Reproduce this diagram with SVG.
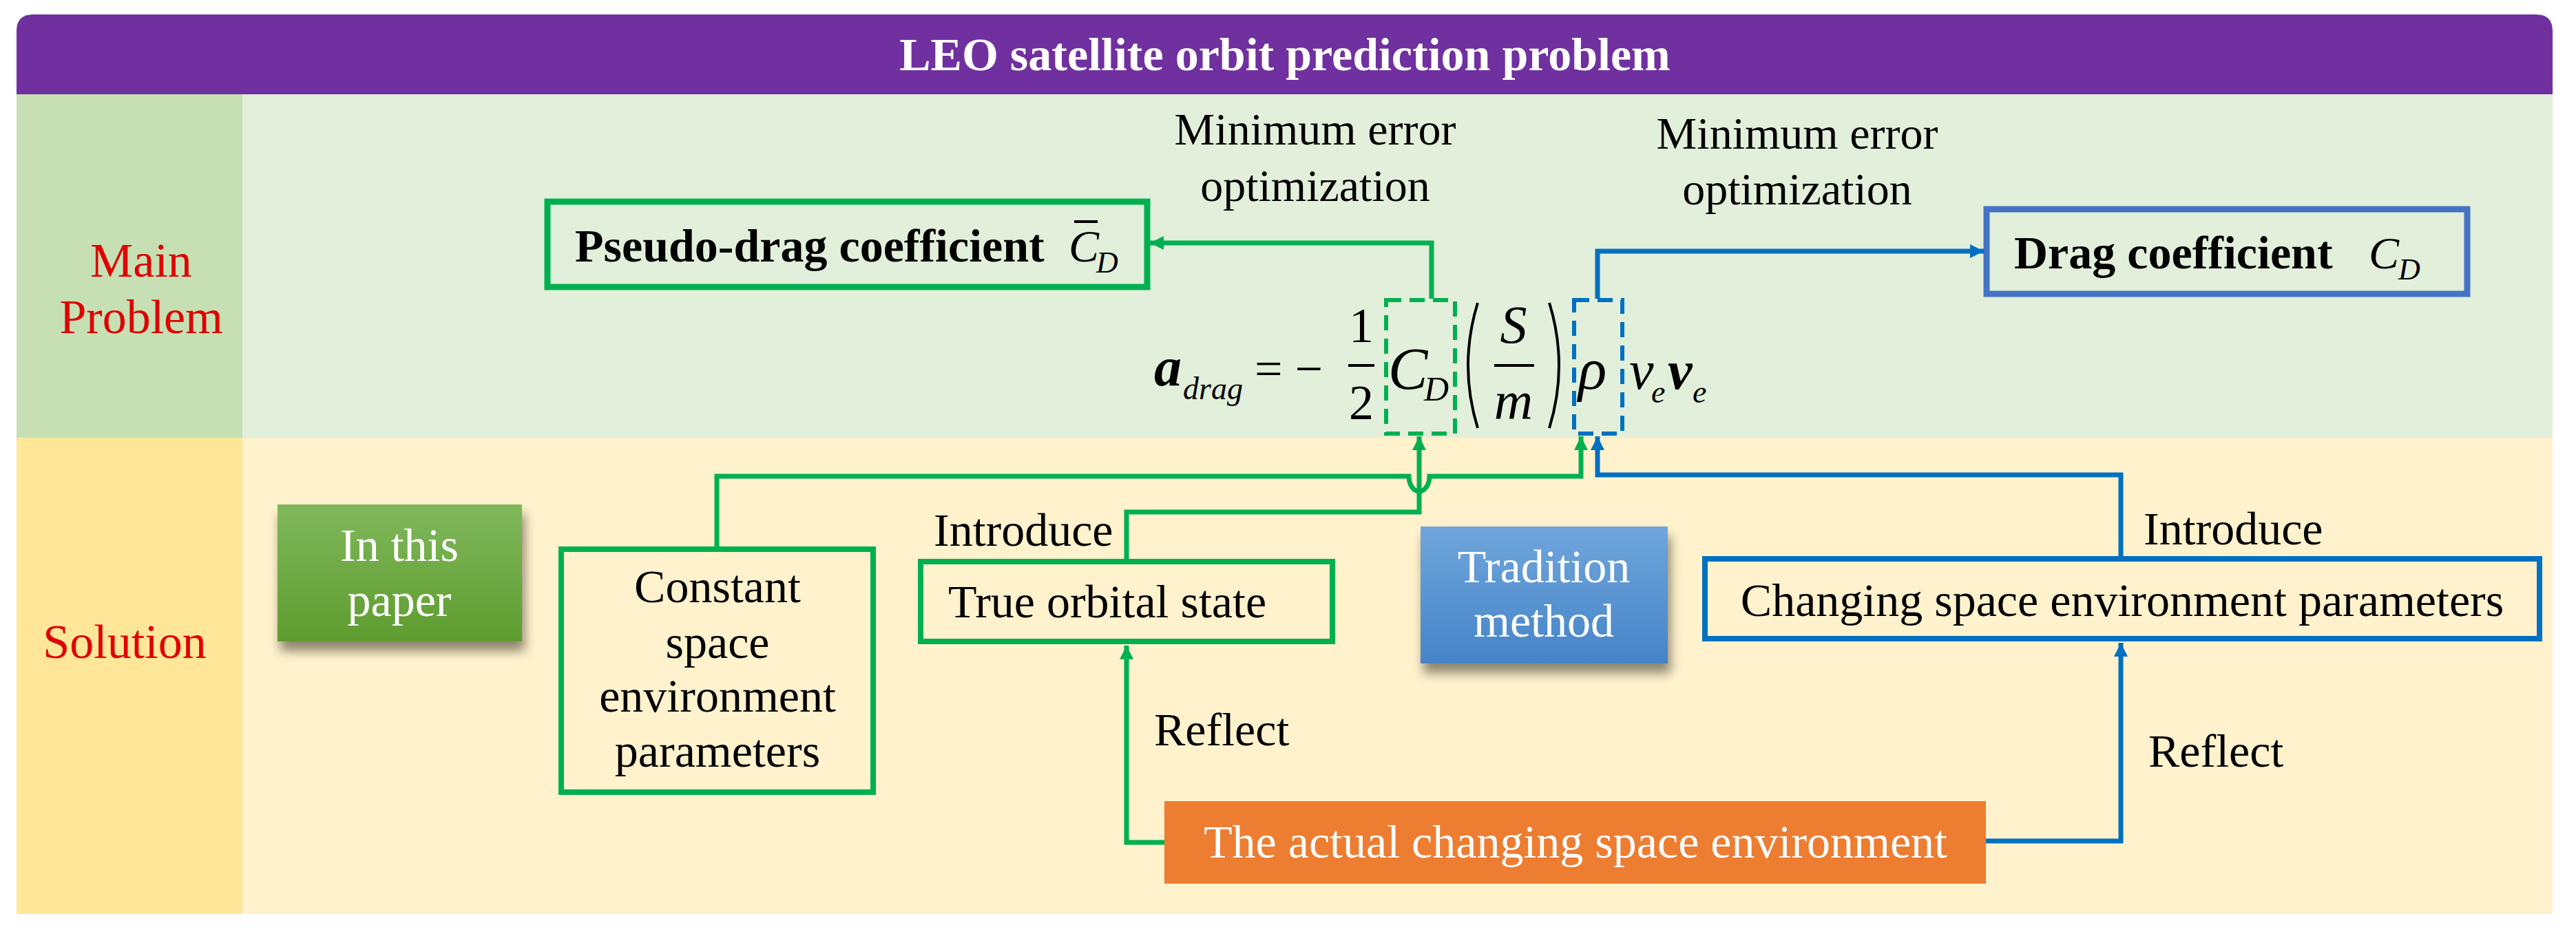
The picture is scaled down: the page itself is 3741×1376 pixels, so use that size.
<svg xmlns="http://www.w3.org/2000/svg" width="3741" height="1376" viewBox="0 0 3741 1376" font-family="'Liberation Serif', 'DejaVu Serif', serif">
<style>
text{font-family:'Liberation Serif','DejaVu Serif',serif;fill:#000}
.t{font-size:68px}
.lab{font-size:70px;fill:#e00000;text-anchor:middle}
.w{fill:#fff}
.g{fill:none;stroke:#00b050;stroke-width:7}
.b{fill:none;stroke:#0070c0;stroke-width:7}
.m{font-style:italic}
</style>
<defs>
<marker id="ag" markerUnits="userSpaceOnUse" markerWidth="24" markerHeight="24" refX="20" refY="10" orient="auto"><path d="M0,0 L20,10 L0,20 Z" fill="#00b050"/></marker>
<marker id="ab" markerUnits="userSpaceOnUse" markerWidth="24" markerHeight="24" refX="20" refY="10" orient="auto"><path d="M0,0 L20,10 L0,20 Z" fill="#0070c0"/></marker>
<linearGradient id="gg" x1="0" y1="0" x2="0" y2="1"><stop offset="0" stop-color="#80b85c"/><stop offset="1" stop-color="#5e9c2e"/></linearGradient>
<linearGradient id="bg" x1="0" y1="0" x2="0" y2="1"><stop offset="0" stop-color="#70a6dc"/><stop offset="1" stop-color="#4584c8"/></linearGradient>
<filter id="sh" x="-20%" y="-20%" width="140%" height="150%"><feDropShadow dx="4" dy="14" stdDeviation="8" flood-color="#000" flood-opacity="0.45"/></filter>
</defs>
<rect width="3741" height="1376" fill="#fff"/>
<g id="bands">
<rect x="24" y="137" width="3683" height="499" fill="#e2efda"/>
<rect x="24" y="137" width="328" height="499" fill="#c6e0b4"/>
<rect x="24" y="636" width="3683" height="692" fill="#fff2cc"/>
<rect x="24" y="636" width="328" height="692" fill="#ffe699"/>
<text class="lab" x="205" y="402">Main</text>
<text class="lab" x="205" y="484">Problem</text>
<text class="lab" x="181" y="956">Solution</text>
</g>
<g id="title">
<path d="M48,21 H3683 Q3707,21 3707,45 V137 H24 V45 Q24,21 48,21 Z" fill="#7030a0"/>
<text x="1866" y="102" text-anchor="middle" font-size="68" font-weight="bold" class="w">LEO satellite orbit prediction problem</text>
</g>
<g id="pseudo">
<rect x="795" y="293" width="871" height="124" fill="none" stroke="#00b050" stroke-width="9"/>
<text x="835" y="380" font-size="68" font-weight="bold">Pseudo-drag coefficient</text>
<text x="1552" y="380" font-size="66" class="m">C</text>
<text x="1592" y="396" font-size="44" class="m">D</text>
<line x1="1560" y1="322" x2="1594" y2="322" stroke="#000" stroke-width="4"/>
</g>
<g id="drag">
<rect x="2885" y="304" width="698" height="123" fill="none" stroke="#4472c4" stroke-width="9"/>
<text x="2925" y="390" font-size="68" font-weight="bold">Drag coefficient</text>
<text x="3440" y="390" font-size="66" class="m">C</text>
<text x="3483" y="406" font-size="44" class="m">D</text>
</g>
<g id="optlabels">
<text x="1910" y="210" text-anchor="middle" font-size="66">Minimum error</text>
<text x="1910" y="292" text-anchor="middle" font-size="66">optimization</text>
<text x="2610" y="216" text-anchor="middle" font-size="66">Minimum error</text>
<text x="2610" y="297" text-anchor="middle" font-size="66">optimization</text>
</g>
<g id="equation">
<text x="1676" y="560" font-size="80" font-weight="bold" class="m">a</text>
<text x="1718" y="580" font-size="46" class="m">drag</text>
<text x="1822" y="560" font-size="72">= −</text>
<text x="1977" y="497" font-size="72" text-anchor="middle">1</text>
<line x1="1958" y1="531" x2="1996" y2="531" stroke="#000" stroke-width="4"/>
<text x="1977" y="609" font-size="72" text-anchor="middle">2</text>
<text x="2016" y="565" font-size="86" class="m">C</text>
<text x="2068" y="582" font-size="50" class="m">D</text>
<path d="M2146,440 Q2118,531 2146,622" fill="none" stroke="#000" stroke-width="4"/>
<text x="2198" y="498" font-size="78" text-anchor="middle" class="m">S</text>
<line x1="2170" y1="531" x2="2228" y2="531" stroke="#000" stroke-width="4"/>
<text x="2198" y="609" font-size="78" text-anchor="middle" class="m">m</text>
<path d="M2250,440 Q2278,531 2250,622" fill="none" stroke="#000" stroke-width="4"/>
<text x="2292" y="565" font-size="86" class="m">ρ</text>
<text x="2366" y="565" font-size="80" class="m">v</text>
<text x="2398" y="585" font-size="46" class="m">e</text>
<text x="2422" y="565" font-size="80" font-weight="bold" class="m">v</text>
<text x="2458" y="585" font-size="46" class="m">e</text>
<rect x="2013" y="436" width="100" height="194" fill="none" stroke="#00b050" stroke-width="6" stroke-dasharray="22,12"/>
<rect x="2286" y="436" width="70" height="194" fill="none" stroke="#0070c0" stroke-width="6" stroke-dasharray="22,12"/>
</g>
<g id="inpaper">
<rect x="403" y="733" width="355" height="199" fill="url(#gg)" filter="url(#sh)"/>
<text x="580" y="815" text-anchor="middle" class="t w">In this</text>
<text x="580" y="895" text-anchor="middle" class="t w">paper</text>
</g>
<g id="constant">
<rect x="815" y="798" width="453" height="353" fill="none" stroke="#00b050" stroke-width="8"/>
<text x="1042" y="875" text-anchor="middle" class="t">Constant</text>
<text x="1042" y="956" text-anchor="middle" class="t">space</text>
<text x="1042" y="1034" text-anchor="middle" class="t">environment</text>
<text x="1042" y="1114" text-anchor="middle" class="t">parameters</text>
</g>
<g id="trueorbit">
<rect x="1337" y="816" width="598" height="116" fill="none" stroke="#00b050" stroke-width="8"/>
<text x="1377" y="897" class="t">True orbital state</text>
</g>
<g id="tradition">
<rect x="2063" y="765" width="359" height="199" fill="url(#bg)" filter="url(#sh)"/>
<text x="2242" y="846" text-anchor="middle" class="t w">Tradition</text>
<text x="2242" y="925" text-anchor="middle" class="t w">method</text>
</g>
<g id="changing">
<rect x="2476" y="812" width="1212" height="116" fill="none" stroke="#0070c0" stroke-width="8"/>
<text x="3082" y="895" text-anchor="middle" class="t">Changing space environment parameters</text>
</g>
<g id="actual">
<rect x="1691" y="1164" width="1193" height="120" fill="#ed7d31"/>
<text x="2288" y="1246" text-anchor="middle" class="t w">The actual changing space environment</text>
</g>
<g id="connectors">
<path class="g" d="M2079,434 V353 H1670" marker-end="url(#ag)"/>
<path class="b" d="M2320,434 V365 H2881" marker-end="url(#ab)"/>
<path class="g" d="M1041,794 V692 H2046 A15,22 0 0 0 2076,692 H2296 V634" marker-end="url(#ag)"/>
<path class="g" d="M1636,812 V744 H2061 V634" marker-end="url(#ag)"/>
<path class="b" d="M3080,808 V690 H2320 V634" marker-end="url(#ab)"/>
<path class="g" d="M1691,1224 H1636 V938" marker-end="url(#ag)"/>
<path class="b" d="M2884,1222 H3080 V934" marker-end="url(#ab)"/>
</g>
<g id="connlabels">
<text x="1356" y="793" class="t">Introduce</text>
<text x="1676" y="1083" class="t">Reflect</text>
<text x="3113" y="791" class="t">Introduce</text>
<text x="3120" y="1114" class="t">Reflect</text>
</g>
</svg>
